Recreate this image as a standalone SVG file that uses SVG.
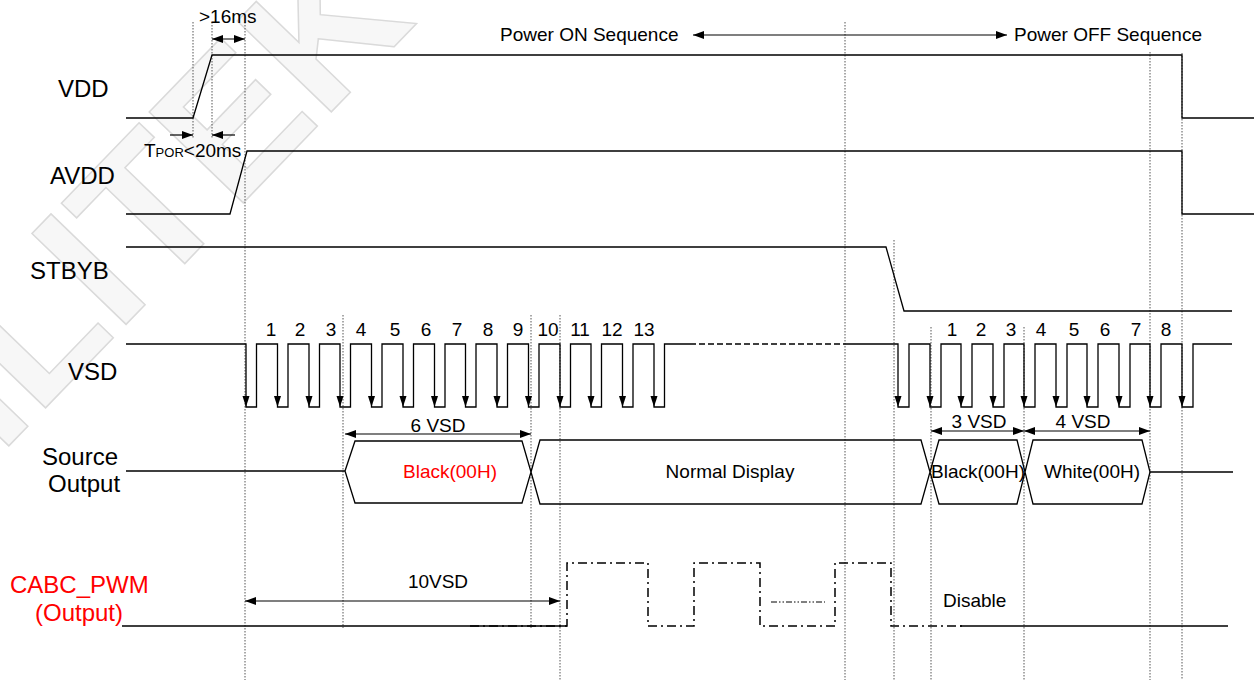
<svg xmlns="http://www.w3.org/2000/svg" width="1254" height="682" viewBox="0 0 1254 682">
<defs>
<style>
.sig{fill:none;stroke:#000;stroke-width:1.3}
.dot{fill:none;stroke:#555;stroke-width:1;stroke-dasharray:1.5 1.5}
.lbl{font-family:"Liberation Sans",Arial,sans-serif;font-size:24px;fill:#000}
.t{font-family:"Liberation Sans",Arial,sans-serif;font-size:19px;fill:#000}
.red{fill:#f00}
.dim{fill:none;stroke:#000;stroke-width:1.2;marker-start:url(#ah);marker-end:url(#ah)}
.one{fill:none;stroke:#000;stroke-width:1.2;marker-end:url(#ah)}
.dd{fill:none;stroke:#000;stroke-width:1.5;stroke-dasharray:9 4 2 4}
.wm{font-family:"Liberation Sans",Arial,sans-serif;font-weight:bold;font-size:190px;fill:#f7f7f7;stroke:#dadada;stroke-width:1.5}
</style>
<marker id="ah" viewBox="0 0 11 8" refX="11" refY="4" markerWidth="11" markerHeight="8" markerUnits="userSpaceOnUse" orient="auto-start-reverse"><path d="M0,0 L11,4 L0,8 Z" fill="#000"/></marker>
<path id="dn" d="M-3.5,-11 H3.5 L0,0 Z" fill="#000"/>
</defs>
<rect width="1254" height="682" fill="#fff"/>
<g id="watermark"><text class="wm" transform="translate(0,455) rotate(-46)">ILITEK C</text></g>

<g id="guides">
<path class="dot" d="M193,22 V138 M212,22 V138 M245,22 V680 M343,315 V628 M531,315 V628 M560,315 V680 M845,22 V680 M894,240 V680 M931,327 V680 M1024,327 V680 M1150,52 V680 M1182,53 V680"/>
</g>

<g id="labels">
<text class="lbl" x="58" y="97">VDD</text>
<text class="lbl" x="50" y="184">AVDD</text>
<text class="lbl" x="30" y="279">STBYB</text>
<text class="lbl" x="68" y="380">VSD</text>
<text class="lbl" x="42" y="465">Source</text>
<text class="lbl" x="48" y="492">Output</text>
<text class="lbl red" x="10" y="593">CABC_PWM</text>
<text class="lbl red" x="35" y="621">(Output)</text>
</g>

<g id="vdd">
<path class="sig" d="M126,118 H193 L212,55 H1182 V118 H1254"/>
</g>
<g id="avdd">
<path class="sig" d="M126,214 H230 L247,151 H1182 V214 H1254"/>
</g>
<g id="stbyb">
<path class="sig" d="M126,247 H886 L904,311 H1232"/>
</g>

<g id="vsd">
<path class="sig" d="M126,344 H246 V407 H256.5 V344 H277.5 V407 H288 V344 H309 V407 H319.5 V344 H340 V407 H350.5 V344 H371.5 V407 H382 V344 H403 V407 H413.5 V344 H434.5 V407 H445 V344 H465.5 V407 H476 V344 H497 V407 H507.5 V344 H528.5 V407 H539 V344 H560 V407 H570.5 V344 H591 V407 H601.5 V344 H622.5 V407 H633 V344 H654 V407 H664.5 V344 H690"/>
<path class="sig" d="M690,344 H846" stroke-dasharray="6 3"/>
<path class="sig" d="M846,344 H898 V407 H909 V344 H930 V407 H941 V344 H961 V407 H972 V344 H993 V407 H1004 V344 H1024 V407 H1035 V344 H1056 V407 H1067 V344 H1087 V407 H1098 V344 H1119 V407 H1130 V344 H1150 V407 H1161 V344 H1182 V407 H1193 V344 H1232"/>
<use href="#dn" x="246" y="407"/><use href="#dn" x="277.5" y="407"/><use href="#dn" x="309" y="407"/><use href="#dn" x="340" y="407"/><use href="#dn" x="371.5" y="407"/><use href="#dn" x="403" y="407"/><use href="#dn" x="434.5" y="407"/><use href="#dn" x="465.5" y="407"/><use href="#dn" x="497" y="407"/><use href="#dn" x="528.5" y="407"/><use href="#dn" x="560" y="407"/><use href="#dn" x="591" y="407"/><use href="#dn" x="622.5" y="407"/><use href="#dn" x="654" y="407"/>
<use href="#dn" x="898" y="407"/><use href="#dn" x="930" y="407"/><use href="#dn" x="961" y="407"/><use href="#dn" x="993" y="407"/><use href="#dn" x="1024" y="407"/><use href="#dn" x="1056" y="407"/><use href="#dn" x="1087" y="407"/><use href="#dn" x="1119" y="407"/><use href="#dn" x="1150" y="407"/><use href="#dn" x="1182" y="407"/>
<g class="t" text-anchor="middle">
<text x="271" y="336">1</text><text x="300" y="336">2</text><text x="331" y="336">3</text><text x="361" y="336">4</text><text x="395" y="336">5</text><text x="426" y="336">6</text><text x="457" y="336">7</text><text x="488" y="336">8</text><text x="518" y="336">9</text><text x="548" y="336">10</text><text x="580" y="336">11</text><text x="612" y="336">12</text><text x="644" y="336">13</text>
<text x="952" y="336">1</text><text x="981" y="336">2</text><text x="1011" y="336">3</text><text x="1041" y="336">4</text><text x="1074" y="336">5</text><text x="1105" y="336">6</text><text x="1136" y="336">7</text><text x="1166" y="336">8</text>
</g>
</g>

<g id="source">
<path class="sig" d="M126,471 H345 M345,471 L355,441 H522 L531,472 L522,503 H355 Z M531,472 L540,440 H921 L930,472 L921,504 H540 Z M930,472 L939,440 H1017 L1025,472 L1017,504 H939 Z M1025,472 L1033,440 H1142 L1150,472 L1142,504 H1033 Z M1150,472 H1233"/>
<text class="t red" x="450" y="478" text-anchor="middle">Black(00H)</text>
<text class="t" x="730" y="478" text-anchor="middle">Normal Display</text>
<text class="t" x="978" y="478" text-anchor="middle">Black(00H)</text>
<text class="t" x="1092" y="478" text-anchor="middle">White(00H)</text>
</g>

<g id="cabc">
<path class="sig" d="M122,626 H567 M960,626 H1228"/>
<path class="dd" d="M470,626 H567 V563 H648 V626 H694 V563 H760 V626 H835 V563 H891 V626 H962"/>
<path fill="none" stroke="#000" stroke-width="1" stroke-dasharray="6 2 1.5 2 1.5 2" d="M771,602 H825"/>
<text class="t" x="943" y="607">Disable</text>
</g>

<g id="connectors">
<path class="one" d="M170,135 H193"/>
<path class="one" d="M235,135 H212"/>
<path class="dim" d="M212,39 H245"/>
<path class="dim" d="M693,35 H1007"/>
<path class="dim" d="M345,434 H531"/>
<path class="dim" d="M931,431 H1024"/>
<path class="dim" d="M1024,431 H1150"/>
<path class="dim" d="M245,601 H560"/>
</g>

<g id="annotations">
<text class="t" x="199" y="23">&gt;16ms</text>
<text class="t" x="144" y="157">T<tspan font-size="13">POR</tspan>&lt;20ms</text>
<text class="t" x="500" y="41">Power ON Sequence</text>
<text class="t" x="1014" y="41">Power OFF Sequence</text>
<text class="t" x="438" y="432" text-anchor="middle">6 VSD</text>
<text class="t" x="979" y="428" text-anchor="middle">3 VSD</text>
<text class="t" x="1083" y="428" text-anchor="middle">4 VSD</text>
<text class="t" x="438" y="588" text-anchor="middle">10VSD</text>
</g>
</svg>
